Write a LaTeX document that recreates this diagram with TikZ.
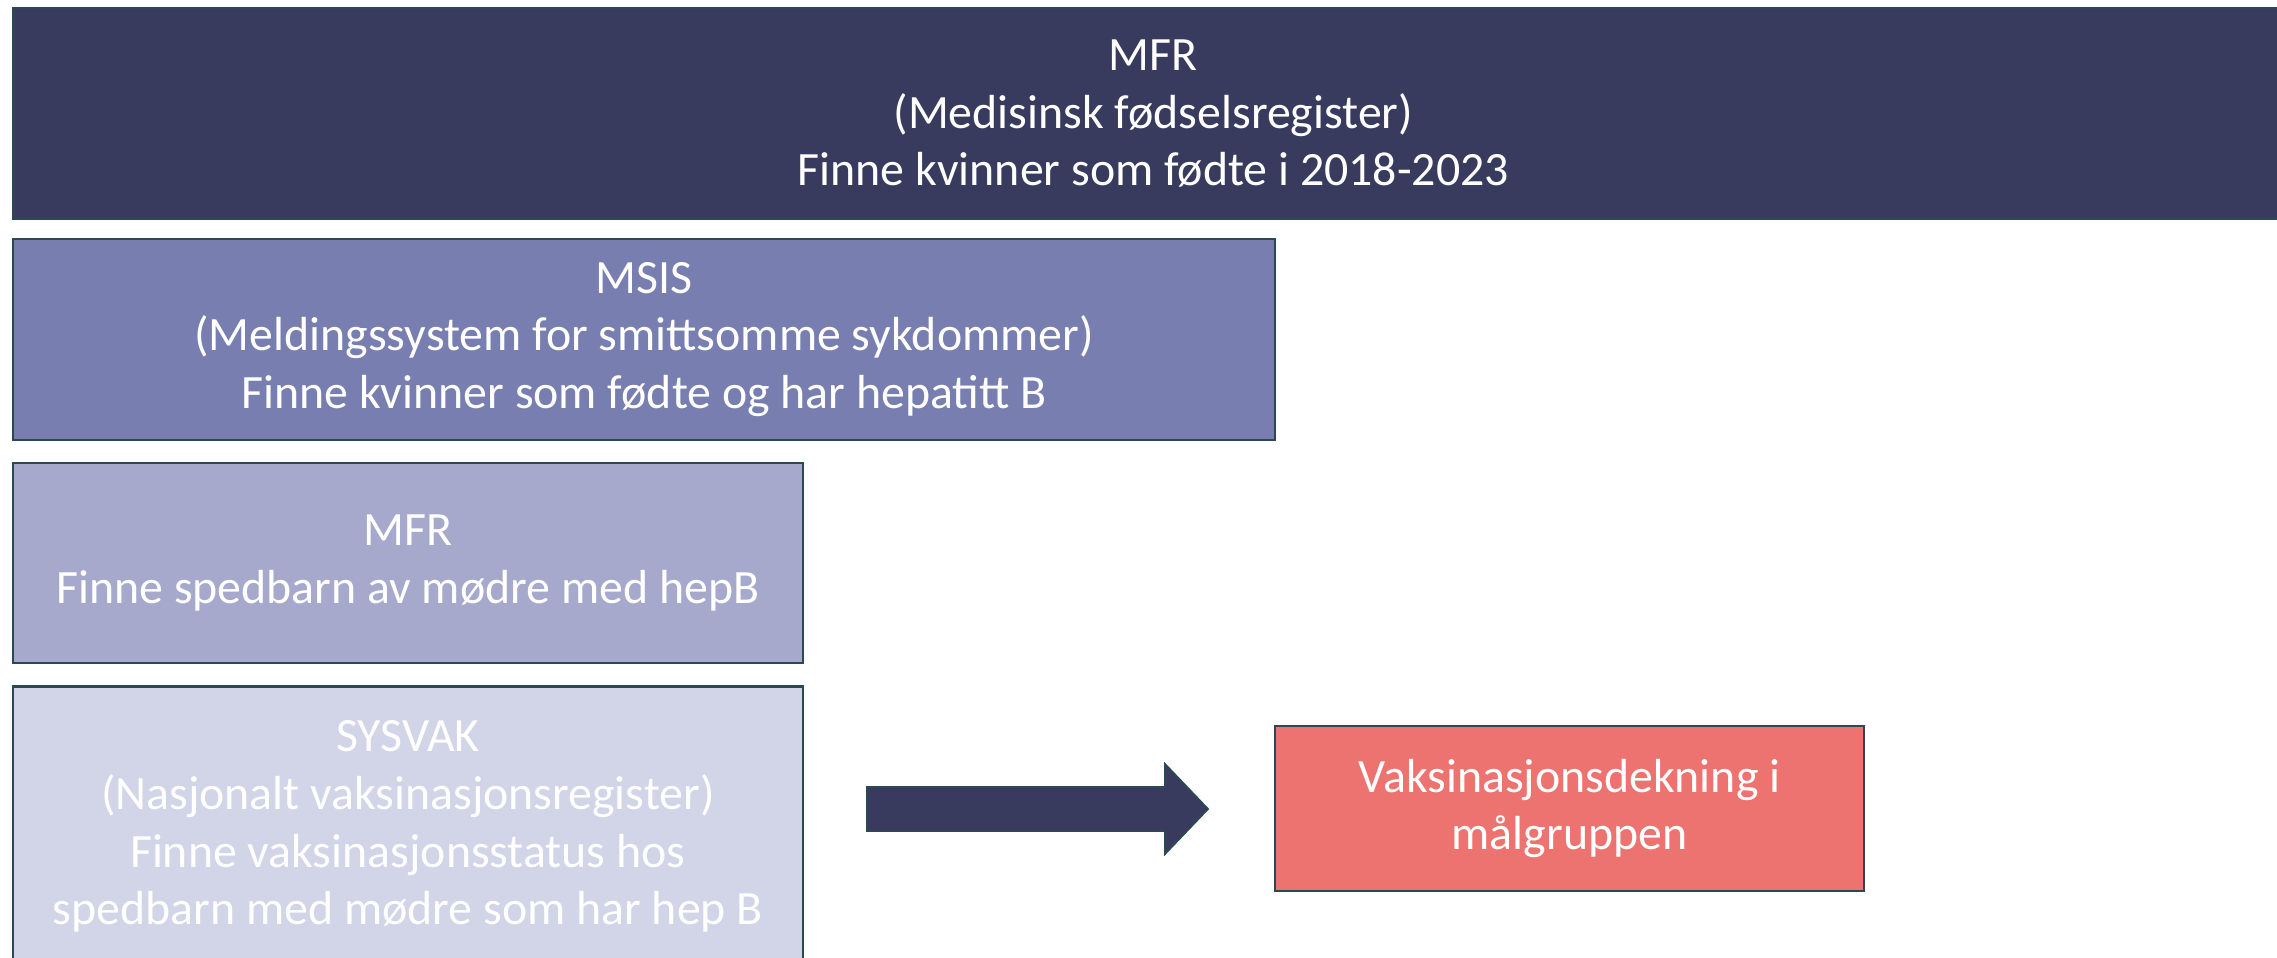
\documentclass[tikz,border=0pt]{standalone}
\usepackage{fontspec}
\setmainfont{Carlito}
\definecolor{bordc}{RGB}{44,72,84}
\definecolor{c1}{RGB}{57,59,94}
\definecolor{c2}{RGB}{120,126,175}
\definecolor{c3}{RGB}{166,169,204}
\definecolor{c4}{RGB}{210,212,231}
\definecolor{cred}{RGB}{237,115,112}
\tikzset{
  box/.style={draw=bordc, line width=0.6pt, rectangle, inner sep=0pt, text=white,
    align=center, font=\fontsize{13.6}{16.4}\selectfont, anchor=north west},
}
\begin{document}
\begin{tikzpicture}[x=0.01cm,y=-0.01cm]
\clip (0,0) rectangle (2277,958);
\fill[white] (0,0) rectangle (2277,958);
\node[box, fill=c1, minimum width=22.80cm, minimum height=2.105cm] (mfr) at (11.6,7.3)
  {MFR\\(Medisinsk fødselsregister)\\Finne kvinner som fødte i 2018-2023};
\node[box, fill=c2, minimum width=12.62cm, minimum height=2.006cm] (msis) at (11.6,238)
  {MSIS\\(Meldingssystem for smittsomme sykdommer)\\Finne kvinner som fødte og har hepatitt B};
\node[box, fill=c3, minimum width=7.90cm, minimum height=2.004cm] (mfr2) at (11.6,461.8)
  {MFR\\Finne spedbarn av mødre med hepB};
\node[box, fill=c4, minimum width=7.90cm, minimum height=2.80cm] (sysvak) at (11.6,685.4)
  {SYSVAK\\(Nasjonalt vaksinasjonsregister)\\Finne vaksinasjonsstatus hos\\spedbarn med mødre som har hep B};
\node[box, fill=cred, minimum width=5.894cm, minimum height=1.656cm] (res) at (1273.6,724.6)
  {Vaksinasjonsdekning i\\målgruppen};
\draw[draw=bordc, line width=0.5pt, fill=c1, line join=miter]
  (867,787) -- (1165,787) -- (1165,764) -- (1208,809) -- (1165,854) -- (1165,831) -- (867,831) -- cycle;
\end{tikzpicture}
\end{document}
